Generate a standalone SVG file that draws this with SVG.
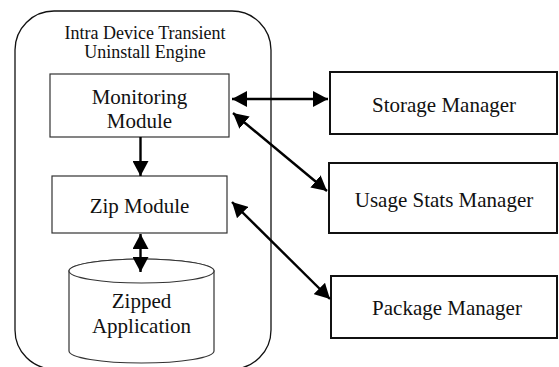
<svg xmlns="http://www.w3.org/2000/svg" width="559" height="367" viewBox="0 0 559 367">
  <style>
    text { font-family: "Liberation Serif", "Times New Roman", serif; fill: #111; text-anchor: middle; }
    .title { font-size: 18px; }
    .label { font-size: 21px; }
    .inner { fill: #fff; stroke: #333; stroke-width: 1.2; }
    .outer { fill: #fff; stroke: #111; stroke-width: 2; }
    .engine { fill: #fff; stroke: #111; stroke-width: 1.3; }
    .link { stroke: #000; stroke-width: 2.4; fill: none; }
  </style>
  <defs>
    <marker id="head" markerUnits="userSpaceOnUse" markerWidth="16" markerHeight="16" refX="15" refY="8" orient="auto-start-reverse" viewBox="0 0 16 16">
      <path d="M0,0 L15,8 L0,16 Z" fill="#000"/>
    </marker>
  </defs>

  <rect width="559" height="367" fill="#fff"/>

  <!-- engine container -->
  <g id="engine">
    <rect class="engine" x="15" y="11" width="256" height="358" rx="39" ry="39"/>
    <text class="title" x="145" y="39">Intra Device Transient</text>
    <text class="title" x="145" y="58">Uninstall Engine</text>
  </g>

  <g id="monitoring-module">
    <rect class="inner" x="50" y="74" width="179" height="63"/>
    <text class="label" x="139.5" y="104">Monitoring</text>
    <text class="label" x="139.5" y="128">Module</text>
  </g>

  <g id="zip-module">
    <rect class="inner" x="52" y="176" width="175" height="57"/>
    <text class="label" x="139.5" y="213">Zip Module</text>
  </g>

  <g id="zipped-application">
    <path class="inner" d="M69,271 L69,351 A72.5,12 0 0 0 214,351 L214,271 A72.5,12 0 0 0 69,271 Z"/>
    <ellipse class="inner" cx="141.5" cy="271" rx="72.5" ry="12" fill="none"/>
    <text class="label" x="141.5" y="308">Zipped</text>
    <text class="label" x="141.5" y="333">Application</text>
  </g>

  <g id="storage-manager">
    <rect class="outer" x="330" y="72" width="227" height="62"/>
    <text class="label" x="444" y="112">Storage Manager</text>
  </g>

  <g id="usage-stats-manager">
    <rect class="outer" x="329" y="163" width="228" height="70"/>
    <text class="label" x="444" y="207">Usage Stats Manager</text>
  </g>

  <g id="package-manager">
    <rect class="outer" x="331" y="276" width="226" height="62"/>
    <text class="label" x="447" y="315">Package Manager</text>
  </g>

  <!-- connectors -->
  <g id="connectors">
    <line class="link" x1="140.5" y1="137" x2="140.5" y2="176" marker-end="url(#head)"/>
    <line class="link" x1="140.5" y1="234" x2="140.5" y2="272" marker-start="url(#head)" marker-end="url(#head)"/>
    <line class="link" x1="232" y1="99" x2="328" y2="99" marker-start="url(#head)" marker-end="url(#head)"/>
    <line class="link" x1="233" y1="113" x2="327" y2="191" marker-start="url(#head)" marker-end="url(#head)"/>
    <line class="link" x1="232" y1="202" x2="330" y2="299" marker-start="url(#head)" marker-end="url(#head)"/>
  </g>
</svg>
